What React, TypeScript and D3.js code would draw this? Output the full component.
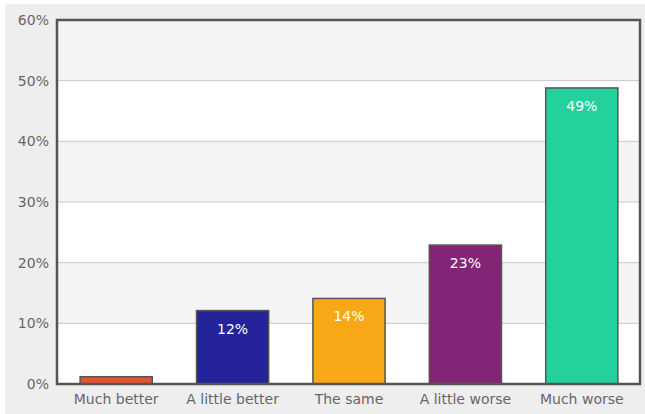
import React from "react";
import * as d3 from "d3";

const categories = ["Much better", "A little better", "The same", "A little worse", "Much worse"];
const values = [1.2, 12.1, 14.1, 22.9, 48.8];
const colors = ["#e8532b", "#24239a", "#f8a816", "#832576", "#24d19d"];
const yTicks = [0, 10, 20, 30, 40, 50, 60];

export default function App() {
  const W = 645, H = 414;
  const left = 58, right = 640, top = 20, bottom = 384;
  const x = d3.scaleBand<string>().domain(categories).range([left, right]).paddingInner(0.38).paddingOuter(0.19);
  const y = d3.scaleLinear().domain([0, 60]).range([bottom, top]);
  const font = "'DejaVu Sans', Verdana, sans-serif";
  return (
    <svg width={W} height={H} style={{ position: "absolute", left: 0, top: 0, display: "block" }}>
      <rect x={5} y={4} width={W - 5} height={H - 4} fill="#eeeeee" />
      <rect x={left} y={top} width={right - left} height={bottom - top} fill="#ffffff" />
      {yTicks.slice(0, -1).map((t, i) =>
        i % 2 === 1 ? (
          <rect key={"band" + t} x={left} y={y(t + 10)} width={right - left} height={y(t) - y(t + 10)} fill="#f4f4f4" />
        ) : null
      )}
      {yTicks.map((t) => (
        <g key={"t" + t}>
          <line x1={left} x2={right} y1={y(t)} y2={y(t)} stroke="#c8c8c8" strokeWidth={1} />
          <text x={49} y={y(t)} dy="0.35em" textAnchor="end" fontSize={14} fill="#666" fontFamily={font}>
            {t}%
          </text>
        </g>
      ))}
      {categories.map((c, i) => (
        <g key={c}>
          <rect
            x={x(c)}
            y={y(values[i])}
            width={x.bandwidth()}
            height={y(0) - y(values[i])}
            fill={colors[i]}
            stroke="#555"
            strokeWidth={1.5}
          />
          {values[i] >= 5 && (
            <text
              x={(x(c) as number) + x.bandwidth() / 2}
              y={y(values[i]) + 23}
              textAnchor="middle"
              fontSize={14}
              fill="#ffffff"
              fontFamily={font}
            >
              {Math.round(values[i])}%
            </text>
          )}
          <text
            x={(x(c) as number) + x.bandwidth() / 2}
            y={404}
            textAnchor="middle"
            fontSize={14}
            fill="#666"
            fontFamily={font}
          >
            {c}
          </text>
        </g>
      ))}
      <rect x={left - 1} y={top} width={right - left + 1} height={bottom - top} fill="none" stroke="#555" strokeWidth={2.5} />
    </svg>
  );
}
